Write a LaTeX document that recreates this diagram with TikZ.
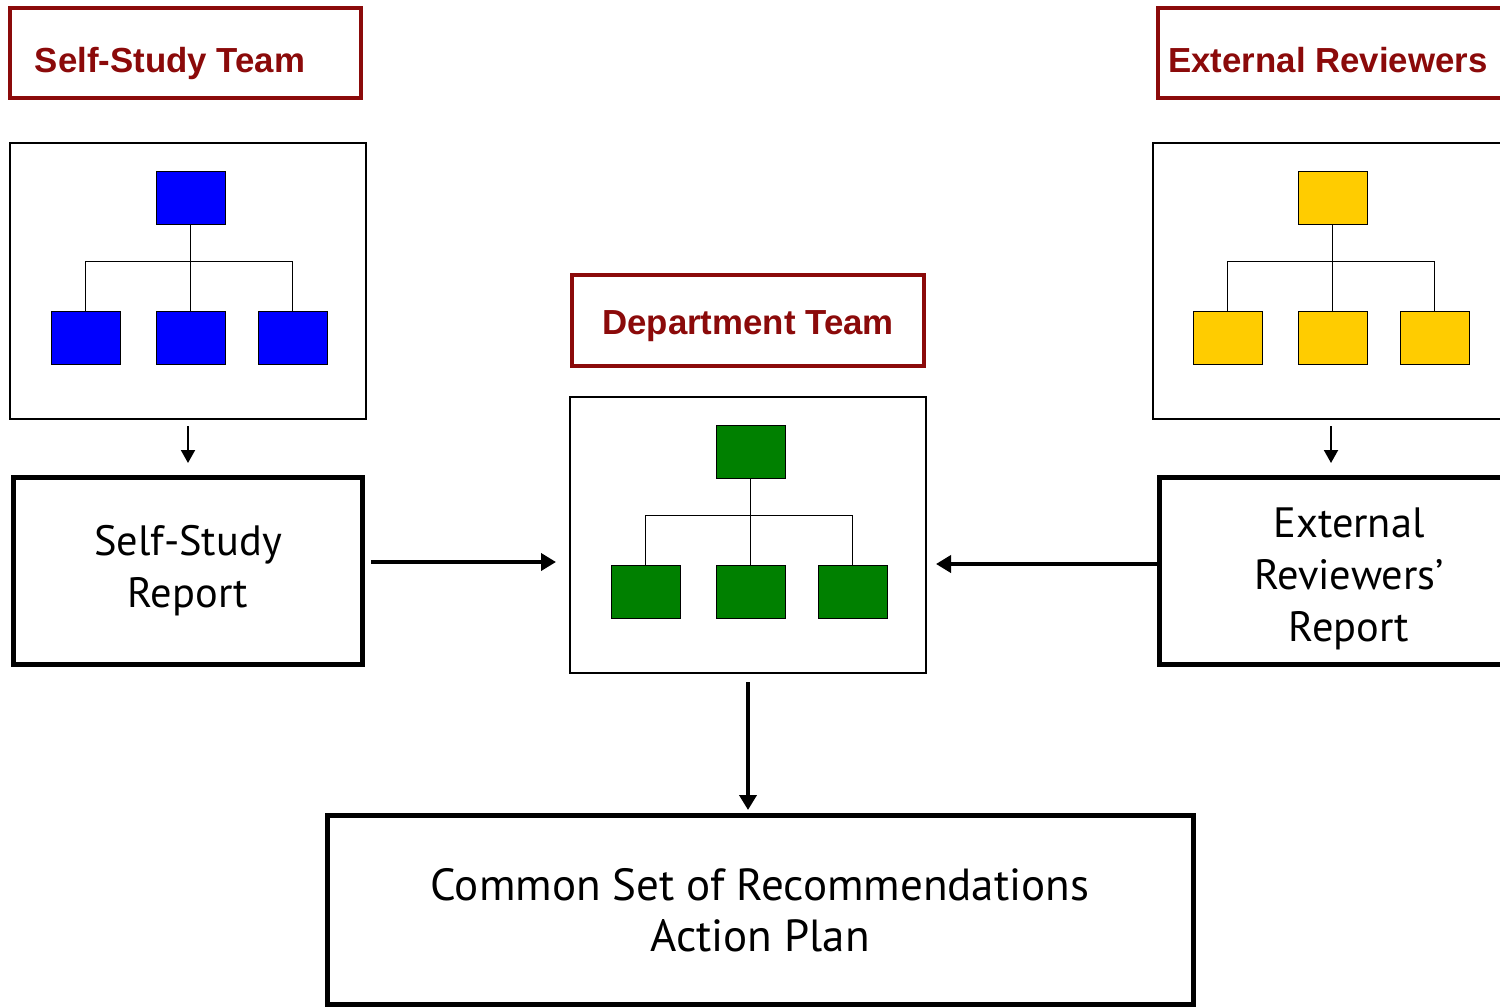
\documentclass[tikz,border=0pt]{standalone}
\usepackage{fontspec}
\setmainfont{PT Sans}
\newfontfamily\titlefont{Liberation Sans}
\usetikzlibrary{arrows.meta}
\definecolor{darkred}{HTML}{8B0A0A}
\definecolor{unitblue}{HTML}{0000FF}
\definecolor{unityellow}{HTML}{FFCC00}
\definecolor{unitgreen}{HTML}{008000}
\tikzset{
  titlebox/.style={draw=darkred, line width=2pt, inner sep=0pt},
  titletext/.style={text=darkred, font=\titlefont\bfseries\fontsize{17.4}{20}\selectfont, inner sep=0pt, anchor=base},
  orgframe/.style={draw, line width=1pt, inner sep=0pt, minimum width=178pt, minimum height=138pt},
  unit/.style={draw, line width=0.5pt, inner sep=0pt, minimum width=34.5pt, minimum height=26.5pt},
  treeline/.style={line width=0.75pt},
  repbox/.style={draw, line width=2.5pt, inner sep=0pt, align=center, font=\fontsize{21.2}{26}\selectfont},
  reptext/.style={align=center, inner sep=0pt, font=\fontsize{21.2}{26}\selectfont},
  thinarrow/.style={line width=1pt, -{Triangle[length=6.5pt,width=7pt]}},
  thickarrow/.style={line width=2.2pt, -{Triangle[length=7.5pt,width=8.5pt]}},
}
\begin{document}
\begin{tikzpicture}[x=0.5pt,y=-0.5pt]
\useasboundingbox (0,0) rectangle (1500,1007);
\clip (0,0) rectangle (1500,1007);
\fill[white] (0,0) rectangle (1500,1007);

% title boxes
\node[titlebox, minimum width=175.5pt, minimum height=45pt] (tss) at (185.5,53) {};
\node[titletext] (tsst) at (170,72) {Self-Study Team};
\node[titlebox, minimum width=175.5pt, minimum height=45pt] (ter) at (1333,53) {};
\node[titletext] (tert) at (1328,72) {External Reviewers};
\node[titlebox, minimum width=176pt, minimum height=45.5pt] (tdt) at (748,320.5) {};
\node[titletext] (tdtt) at (748,334) {Department Team};

% left org chart
\node[orgframe] (lf) at (188,281) {};
\node[unit, fill=unitblue] (l0) at (190.5,197.5) {};
\node[unit, fill=unitblue] (l1) at (85.5,337.5) {};
\node[unit, fill=unitblue] (l2) at (190.5,337.5) {};
\node[unit, fill=unitblue] (l3) at (292.5,337.5) {};
\draw[treeline] (l0.south) -- (l2.north);
\draw[treeline] (l1.north) -- ++(0,-49) -| (l3.north);

% right org chart
\node[orgframe] (rf) at (1331,281) {};
\node[unit, fill=unityellow] (r0) at (1332.5,197.5) {};
\node[unit, fill=unityellow] (r1) at (1227.5,337.5) {};
\node[unit, fill=unityellow] (r2) at (1332.5,337.5) {};
\node[unit, fill=unityellow] (r3) at (1434.5,337.5) {};
\draw[treeline] (r0.south) -- (r2.north);
\draw[treeline] (r1.north) -- ++(0,-49) -| (r3.north);

% center org chart
\node[orgframe] (cf) at (748,535) {};
\node[unit, fill=unitgreen] (c0) at (750.5,451.5) {};
\node[unit, fill=unitgreen] (c1) at (645.5,591.5) {};
\node[unit, fill=unitgreen] (c2) at (750.5,591.5) {};
\node[unit, fill=unitgreen] (c3) at (852.5,591.5) {};
\draw[treeline] (c0.south) -- (c2.north);
\draw[treeline] (c1.north) -- ++(0,-49) -| (c3.north);

% report boxes
\node[repbox, minimum width=174.5pt, minimum height=93.5pt] (lr) at (188,571) {Self-Study\\Report};
\node[repbox, minimum width=174.5pt, minimum height=93.5pt] (rr) at (1334,571) {};
\node[reptext] (rrt) at (1349,579) {External\\Reviewers’\\Report};
\node[repbox, minimum width=433pt, minimum height=94.5pt, font=\fontsize{22.5}{25.5}\selectfont] (bot) at (760,910) {Common Set of Recommendations\\Action Plan};

% arrows
\draw[thinarrow, shorten <=3pt, shorten >=6pt] (lf.south) -- (lf.south |- lr.north);
\draw[thinarrow, shorten <=3pt, shorten >=6pt] (rf.south) -- (rf.south |- rr.north);
\draw[thickarrow, shorten <=3pt, shorten >=6.5pt] ([yshift=4.5pt]lr.east) -- ([yshift=-13.5pt]cf.west);
\draw[thickarrow, shorten >=4.5pt] ([yshift=3.5pt]rr.west) -- ([yshift=-14.5pt]cf.east);
\draw[thickarrow, shorten <=4pt, shorten >=1.5pt] (cf.south) -- (cf.south |- bot.north);
\end{tikzpicture}
\end{document}
